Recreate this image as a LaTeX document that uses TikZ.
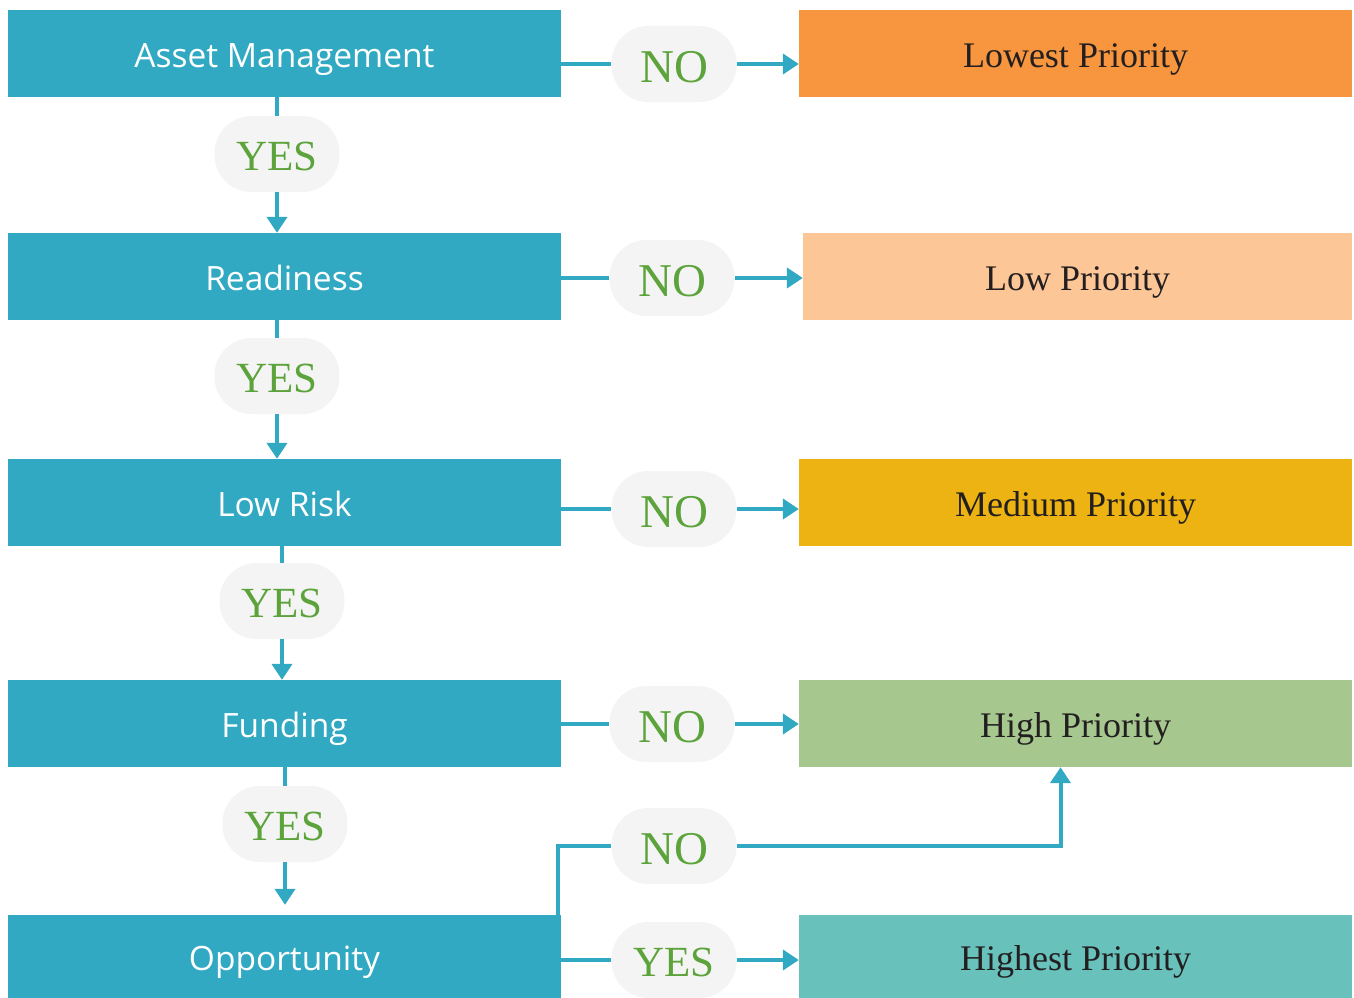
\documentclass[tikz,border=0pt]{standalone}
\usepackage{fontspec}
\setmainfont{Liberation Serif}
\newfontfamily\boxfont{Open Sans}
\usetikzlibrary{arrows.meta,calc}
\definecolor{tealbox}{HTML}{32A9C3}
\definecolor{pillgray}{HTML}{F4F4F4}
\definecolor{yesgreen}{HTML}{5BA33A}
\definecolor{cLowest}{HTML}{F7963F}
\definecolor{cLow}{HTML}{FDC697}
\definecolor{cMedium}{HTML}{ECB312}
\definecolor{cHigh}{HTML}{A6C78E}
\definecolor{cHighest}{HTML}{68C1BA}
\definecolor{darktext}{HTML}{231F20}
\tikzset{
  lbox/.style={fill=tealbox, text=white, minimum width=553pt, minimum height=87pt, inner sep=0pt,
    text height=27pt, text depth=0pt, font=\boxfont\fontsize{33.5}{38}\selectfont},
  rbox/.style={minimum width=553pt, minimum height=87pt, inner sep=0pt, text=darktext,
    text height=27pt, text depth=0pt, font=\fontsize{36}{40}\selectfont},
  pill/.style={fill=pillgray, text=yesgreen, minimum width=125pt, minimum height=76pt, inner sep=0pt,
    rounded corners=37pt, text depth=0pt},
  nopill/.style={pill, text height=36pt, font=\fontsize{47}{52}\selectfont},
  yespill/.style={pill, text height=32pt, font=\fontsize{43}{48}\selectfont},
  conn/.style={draw=tealbox, line width=4pt},
  arr/.style={conn, -{Triangle[width=20pt,length=16pt]}}
}
\begin{document}
\begin{tikzpicture}[x=1pt,y=-1pt]
\useasboundingbox (0,0) rectangle (1354,998);
% left boxes
\node[lbox] (am) at (284.5,53.5) {Asset Management};
\node[lbox] (rd) at (284.5,276.5) {Readiness};
\node[lbox] (lr) at (284.5,502.5) {Low Risk};
\node[lbox] (fd) at (284.5,723.5) {Funding};
\node[lbox, minimum height=83pt] (op) at (284.5,956.5) {Opportunity};
% right boxes
\node[rbox, fill=cLowest] (lw) at (1075.5,53.5) {Lowest Priority};
\node[rbox, fill=cLow, minimum width=549pt] (lo) at (1077.5,276.5) {Low Priority};
\node[rbox, fill=cMedium] (md) at (1075.5,502.5) {Medium Priority};
\node[rbox, fill=cHigh] (hp) at (1075.5,723.5) {High Priority};
\node[rbox, fill=cHighest, minimum height=83pt] (hs) at (1075.5,956.5) {Highest Priority};
% YES pills (vertical)
\node[yespill] (y1) at (277,154) {YES};
\node[yespill] (y2) at (277,376) {YES};
\node[yespill] (y3) at (282,601) {YES};
\node[yespill] (y4) at (285,824) {YES};
% NO pills (horizontal)
\node[nopill] (n1) at (674,64) {NO};
\node[nopill] (n2) at (672,278) {NO};
\node[nopill] (n3) at (674,509) {NO};
\node[nopill] (n4) at (672,724) {NO};
\node[nopill] (n5) at (674,846) {NO};
\node[yespill] (y5) at (674,960) {YES};
% vertical connectors
\draw[conn] (am.south -| y1) -- (y1);
\draw[arr] (y1) -- (rd.north -| y1);
\draw[conn] (rd.south -| y2) -- (y2);
\draw[arr] (y2) -- (lr.north -| y2);
\draw[conn] (lr.south -| y3) -- (y3);
\draw[arr] (y3) -- (fd.north -| y3);
\draw[conn] (fd.south -| y4) -- (y4);
\draw[arr] (y4) -- ($(op.north -| y4)+(0,-10)$);
% horizontal connectors
\draw[conn] (am.east |- n1) -- (n1);
\draw[arr] (n1) -- (lw.west |- n1);
\draw[conn] (rd.east |- n2) -- (n2);
\draw[arr] (n2) -- (lo.west |- n2);
\draw[conn] (lr.east |- n3) -- (n3);
\draw[arr] (n3) -- (md.west |- n3);
\draw[conn] (fd.east |- n4) -- (n4);
\draw[arr] (n4) -- (hp.west |- n4);
\draw[conn] ([xshift=-3pt]op.north east) |- (n5);
\draw[arr] (n5) -| ([xshift=-15pt]hp.south);
\draw[conn] (op.east |- y5) -- (y5);
\draw[arr] (y5) -- (hs.west |- y5);
\end{tikzpicture}
\end{document}
